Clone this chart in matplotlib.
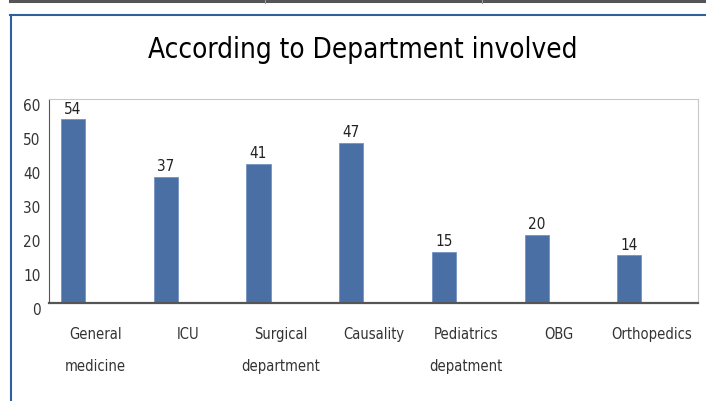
import matplotlib
matplotlib.use("Agg")
import matplotlib.pyplot as plt
from matplotlib.lines import Line2D
import numpy as np

plt.rcParams['font.family'] = ['DejaVu Sans']
plt.rcParams['font.stretch'] = 'condensed'

departamentos = ["General\nmedicine", "ICU", "Surgical\ndepartment", "Causality",
                 "Pediatrics\ndepatment", "OBG", "Orthopedics"]
casos = [54, 37, 41, 47, 15, 20, 14]
marcas_y = [0, 10, 20, 30, 40, 50, 60]

fig = plt.figure(figsize=(7.06, 4.01), dpi=100)

# marco exterior (captura de pantalla)
fig.add_artist(Line2D([10/706, 1], [1 - 1/401, 1 - 1/401], color="#555555", lw=2.2))
fig.add_artist(Line2D([265/706, 265/706], [1, 1 - 3/401], color="#999999", lw=0.8))
fig.add_artist(Line2D([482/706, 482/706], [1, 1 - 3/401], color="#999999", lw=0.8))
fig.add_artist(Line2D([10/706, 1], [1 - 14.5/401, 1 - 14.5/401], color="#2f5fa0", lw=1.5))
fig.add_artist(Line2D([10.5/706, 10.5/706], [1 - 14.5/401, 0], color="#2f5fa0", lw=1.5))

ax = fig.add_axes([49/706, 1 - 303/401, (698 - 49)/706, (303 - 99)/401])

x = np.arange(len(casos))
ax.bar(x - 0.24, casos, width=0.26, color="#4a6fa5", edgecolor="#7393c2", linewidth=0.6)

for xi, v in zip(x, casos):
    ax.annotate(str(v), (xi - 0.24, v), xytext=(0, 2), textcoords="offset points",
                ha="center", va="bottom", fontsize=11, color="#222222")

ax.set_xlim(-0.5, len(casos) - 0.5)
ax.set_ylim(0, 60)
ax.set_yticks(marcas_y)
ax.set_xticks(x)
ax.set_xticklabels(departamentos, fontsize=10.5, color="#333333", linespacing=2.4)
ax.tick_params(axis="x", length=0, pad=17.5)
ax.tick_params(axis="y", length=0, pad=6, labelsize=11, labelcolor="#333333")
for lab in ax.get_yticklabels():
    lab.set_verticalalignment("top")

ax.spines["top"].set_color("#c8c8c8")
ax.spines["right"].set_color("#c8c8c8")
ax.spines["left"].set_color("#555555")
ax.spines["bottom"].set_color("#555555")
ax.spines["bottom"].set_linewidth(1.6)

fig.text(363/706, 1 - 58/401, "According to Department involved", ha="center", va="baseline",
         fontsize=20, color="#000000")

plt.savefig("out.png", dpi=100)
